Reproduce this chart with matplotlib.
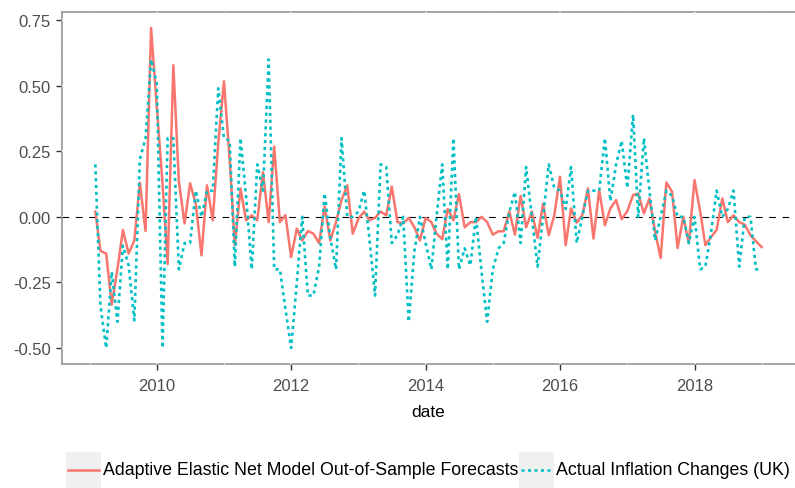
import matplotlib
matplotlib.use("Agg")
import matplotlib.pyplot as plt
import matplotlib.dates as mdates
from matplotlib.patches import Rectangle
from matplotlib.lines import Line2D
import pandas as pd
import numpy as np

plt.rcParams['font.family'] = ['Liberation Sans', 'DejaVu Sans']

dates = pd.date_range('2009-02-01', periods=120, freq='MS')

forecast = [
    0.02, -0.13, -0.14, -0.335, -0.20, -0.05, -0.14, -0.09, 0.13, -0.054,
    0.72, 0.42, 0.13, -0.18, 0.578, 0.134, -0.025, 0.128, 0.05, -0.147,
    0.12, -0.013, 0.28, 0.517, 0.22, -0.108, 0.108, -0.013, 0.006, -0.013,
    0.17, -0.02, 0.268, -0.02, 0.006, -0.153, -0.045, -0.09, -0.054, -0.064,
    -0.10, 0.04, -0.09, -0.02, 0.064, 0.12, -0.064, -0.006, 0.02, -0.013,
    -0.004, 0.02, 0.006, 0.115, -0.02, -0.025, -0.004, -0.04, -0.09, -0.004,
    -0.02, -0.064, -0.085, 0.03, -0.013, 0.087, -0.04, -0.02, -0.02, 0.0,
    -0.02, -0.068, -0.055, -0.055, 0.02, -0.068, 0.08, -0.04, 0.02, -0.08,
    0.05, -0.07, 0.006, 0.153, -0.108, 0.032, -0.022, 0.006, 0.108, -0.083,
    0.102, -0.032, 0.032, 0.064, -0.009, 0.022, 0.083, 0.089, 0.013, 0.07,
    -0.057, -0.157, 0.131, 0.096, -0.119, 0.0, -0.10, 0.14, 0.02, -0.108,
    -0.077, -0.05, 0.07, -0.02, 0.006, -0.02, -0.03, -0.07, -0.093, -0.115,
]

actual = [
    0.20, -0.34, -0.50, -0.21, -0.40, -0.11, -0.185, -0.395, 0.22, 0.30,
    0.60, 0.51, -0.50, 0.30, 0.30, -0.20, -0.10, -0.10, 0.10, 0.0,
    0.10, 0.10, 0.49, 0.30, 0.29, -0.19, 0.30, 0.08, -0.20, 0.20,
    0.10, 0.60, -0.20, -0.20, -0.35, -0.50, -0.25, 0.0, -0.30, -0.30,
    -0.19, 0.09, -0.08, -0.20, 0.30, 0.0, 0.0, 0.02, 0.10, -0.08,
    -0.30, 0.20, 0.19, -0.10, -0.07, 0.0, -0.40, -0.13, 0.0, -0.10,
    -0.20, 0.0, 0.20, -0.20, 0.30, -0.20, -0.12, -0.185, 0.0, -0.21,
    -0.40, -0.20, -0.12, -0.10, 0.02, 0.095, -0.10, 0.19, 0.0, -0.19,
    0.0, 0.20, 0.11, 0.10, 0.03, 0.19, -0.10, 0.0, 0.10, 0.10,
    0.10, 0.30, 0.06, 0.20, 0.29, 0.11, 0.39, 0.0, 0.30, 0.10,
    -0.09, 0.0, 0.10, 0.08, 0.0, 0.0, -0.10, 0.0, -0.20, -0.19,
    -0.06, 0.10, 0.0, 0.03, 0.10, -0.19, 0.0, 0.0, -0.20, -0.20,
]

series_labels = ['Adaptive Elastic Net Model Out-of-Sample Forecasts',
                 'Actual Inflation Changes (UK)']
y_ticks = [-0.50, -0.25, 0.00, 0.25, 0.50, 0.75]
x_tick_years = [2010, 2012, 2014, 2016, 2018]

RED = '#F8766D'
TEAL = '#00BFC4'

W, H = 795, 489
fig = plt.figure(figsize=(W / 100, H / 100), dpi=100)
L, R, T, B = 62, 795, 13, 365
ax = fig.add_axes([L / W, 1 - B / H, (R - L) / W, (B - T) / H])

# limits with ggplot-like 5% expansion
d0, d1 = dates[0], dates[-1]
span = d1 - d0
ax.set_xlim(d0 - span * 0.05, d1 + span * 0.05)
allv = np.array(forecast + actual)
vmin, vmax = allv.min(), allv.max()
ax.set_ylim(vmin - 0.05 * (vmax - vmin), vmax + 0.05 * (vmax - vmin))

# white grid lines (cut the border like ggplot)
for yr in range(2009, 2020):
    lw = 1.1 if yr % 2 == 0 else 0.55
    ax.axvline(pd.Timestamp(f'{yr}-01-01'), color='white', lw=lw, zorder=3,
               clip_on=False, solid_capstyle='butt')
for yv in y_ticks:
    ax.axhline(yv, color='white', lw=1.1, zorder=3, clip_on=False, solid_capstyle='butt')
for yv in [-0.375, -0.125, 0.125, 0.375, 0.625]:
    ax.axhline(yv, color='white', lw=0.55, zorder=3, clip_on=False, solid_capstyle='butt')

ax.axhline(0, color='black', lw=0.8, dashes=(6, 6), zorder=3.5)

ax.plot(dates, forecast, color=RED, lw=1.8, zorder=4, solid_joinstyle='round')
ax.plot(dates, actual, color=TEAL, lw=1.9, dashes=(1.2, 1.4), zorder=4.1)

for side in ['left', 'bottom', 'top']:
    ax.spines[side].set_color('#959595')
    ax.spines[side].set_linewidth(1.2)
ax.spines['right'].set_visible(False)

ax.set_xticks([pd.Timestamp(f'{y}-01-01') for y in x_tick_years])
ax.xaxis.set_major_formatter(mdates.DateFormatter('%Y'))
ax.set_yticks(y_ticks)
ax.set_yticklabels([f'{v:.2f}' for v in y_ticks])
ax.tick_params(axis='both', colors='#333333', labelcolor='#4D4D4D',
               labelsize=12, length=4, width=1.0)
ax.tick_params(axis='x', pad=6)
ax.tick_params(axis='y', pad=4)
ax.set_xlabel('date', fontsize=12.5, color='black', labelpad=8)

# legend drawn at bottom
def px(x, y):
    return x / W, 1 - y / H

key_w, key_h = 35, 36
key_top = 453
keys = [(66, RED, None), (519, TEAL, (1.2, 1.4))]
text_x = [103, 556]
for (kx, col, dsh), tx, lab in zip(keys, text_x, series_labels):
    x0, y0 = px(kx, key_top + key_h)
    fig.add_artist(Rectangle((x0, y0), key_w / W, key_h / H, transform=fig.transFigure,
                             facecolor='#F0F0F0', edgecolor='none'))
    lx0, ly = px(kx + 2, key_top + key_h / 2)
    lx1, _ = px(kx + key_w - 2, 0)
    ln = Line2D([lx0, lx1], [ly, ly], transform=fig.transFigure, color=col, lw=1.8)
    if dsh:
        ln.set_dashes(dsh)
    fig.add_artist(ln)
    tx0, ty = px(tx, key_top + key_h / 2)
    fig.text(tx0, ty, lab, fontsize=12.8, va='center', ha='left', color='black')

fig.savefig('out.png', dpi=100)
